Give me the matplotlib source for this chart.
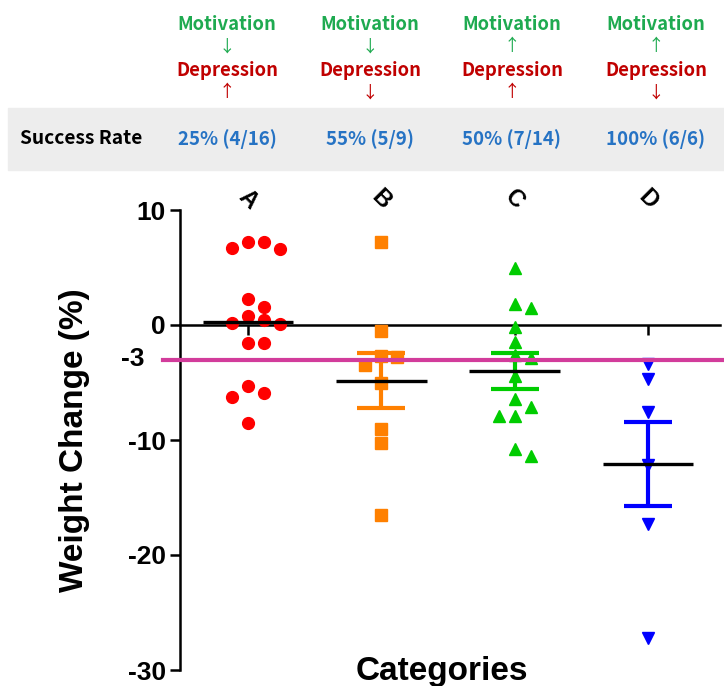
import numpy as np
import matplotlib.pyplot as plt
import matplotlib.transforms as mtransforms
from matplotlib.patches import Rectangle

plt.rcParams['axes.unicode_minus'] = False

categories = ['A', 'B', 'C', 'D']
motivation_arrow = ['↓', '↓', '↑', '↑']
depression_arrow = ['↑', '↓', '↑', '↓']

group_a = [7.2, 7.2, 6.7, 6.6, 2.3, 1.6, 0.8, 0.4, 0.2, 0.1,
           -1.6, -1.6, -5.3, -5.9, -6.3, -8.5]
group_b = [7.2, -0.5, -2.7, -2.8, -3.5, -5.0, -9.0, -10.3, -16.5]
group_c = [5.0, 1.8, 1.5, -0.2, -1.5, -2.6, -2.9, -4.4, -6.4, -7.1,
           -7.9, -7.9, -10.8, -11.4]
group_d = [-3.4, -4.7, -7.6, -12.2, -17.3, -27.2]
groups = [group_a, group_b, group_c, group_d]

# mean / SEM bars
group_mean = [0.3, -4.85, -4.0, -12.1]
group_sem = [0.0, 2.4, 1.6, 3.65]
threshold = -3

colors = ['#FF0000', '#FF8000', '#00CC00', '#0000FF']
markers = ['o', 's', '^', 'v']
msizes = [8.5, 8, 9, 8]


def swarm_offsets(values, gap=1.05, step=0.12):
    # greedy column layout like a GraphPad scatter
    order = np.argsort(values)[::-1]
    slots = [0, 1, -1, 2, -2, 3, -3]
    placed = []
    offs = np.zeros(len(values))
    for i in order:
        v = values[i]
        for s in slots:
            if all(ps != s or abs(v - pv) >= gap for pv, ps in placed):
                break
        placed.append((v, s))
        offs[i] = s * step
    return offs


W, H = 724, 686
fig = plt.figure(figsize=(W / 100, H / 100), dpi=100)
ax = fig.add_axes([180 / W, 1 - 670 / H, 540 / W, 460 / H])

x = np.arange(len(categories))
for i, vals in enumerate(groups):
    vals = np.array(vals)
    ax.plot(x[i] + swarm_offsets(vals), vals, linestyle='none',
            marker=markers[i], ms=msizes[i], color=colors[i],
            mec=colors[i], zorder=3, clip_on=False)
    if group_sem[i] > 0:
        ax.errorbar(x[i], group_mean[i], yerr=group_sem[i], fmt='none',
                    ecolor=colors[i], elinewidth=3, capsize=17, capthick=3,
                    zorder=4)
ax.hlines(group_mean, x - 0.34, x + 0.34, color='black', lw=2.4, zorder=5)

ax.axhline(threshold, xmin=-0.032, xmax=1.01, color='#D23C9B', lw=3,
           clip_on=False, zorder=6)

ax.set_xlim(-0.51, 3.54)
ax.set_ylim(-30, 10)
ax.set_yticks([10, 0, -10, -20, -30])
ax.set_xticks(x)
ax.tick_params(axis='x', labelbottom=False, direction='out', length=7, width=1.8)
ax.tick_params(axis='y', direction='out', length=7, width=1.8, pad=3,
               labelsize=19)
for lab in ax.get_yticklabels():
    lab.set_fontweight('bold')
    lab.set_family('Liberation Sans')

for side in ['top', 'right']:
    ax.spines[side].set_visible(False)
ax.spines['bottom'].set_position(('data', 0))
ax.spines['bottom'].set_linewidth(1.8)
ax.spines['left'].set_linewidth(1.8)
ax.patch.set_visible(False)

trans = mtransforms.blended_transform_factory(ax.transAxes, ax.transData)
ax.text(-0.065, threshold, '-3', transform=trans, ha='right', va='center',
        fontsize=19, fontweight='bold', family='Liberation Sans')

for i, c in enumerate(categories):
    ax.text(x[i], 10.9, c, ha='center', va='center', rotation=-45,
            fontsize=17, fontweight='bold', family='Liberation Sans')

ax.set_ylabel('Weight Change (%)', fontsize=24, fontweight='bold',
              family='Liberation Sans')
ax.yaxis.set_label_coords(-0.167, 0.5)
fig.text(442 / W, 1 - 680 / H, 'Categories', ha='center', va='baseline',
         fontsize=24, fontweight='bold', family='Liberation Sans')

# header table
hfont = ['Noto Sans CJK KR', 'DejaVu Sans']
fig.patches.append(Rectangle((8 / W, 1 - 170 / H), 716 / W, 62 / H,
                             transform=fig.transFigure, color='#EDEDED',
                             zorder=0))
col_x = [227, 370, 512, 656]
fig.text(20 / W, 1 - 139 / H, 'Success Rate', ha='left', va='center',
         fontsize=13.8, fontweight='bold', family=hfont)
for i, vals in enumerate(groups):
    n = len(vals)
    k = int(np.sum(np.array(vals) < threshold))
    rate = f'{int(100 * k / n)}% ({k}/{n})'
    cx = col_x[i] / W
    fig.text(cx, 1 - 24 / H, 'Motivation', ha='center', va='center',
             fontsize=13.3, fontweight='bold', color='#1EAA50', family=hfont)
    fig.text(cx, 1 - 47 / H, motivation_arrow[i], ha='center', va='center',
             fontsize=12, color='#1EAA50', family=hfont)
    fig.text(cx, 1 - 70 / H, 'Depression', ha='center', va='center',
             fontsize=13.3, fontweight='bold', color='#C00000', family=hfont)
    fig.text(cx, 1 - 93 / H, depression_arrow[i], ha='center', va='center',
             fontsize=12, color='#C00000', family=hfont)
    fig.text(cx, 1 - 139 / H, rate, ha='center', va='center',
             fontsize=13.5, fontweight='bold', color='#2673C4', family=hfont)

fig.savefig('out.png', dpi=100)
